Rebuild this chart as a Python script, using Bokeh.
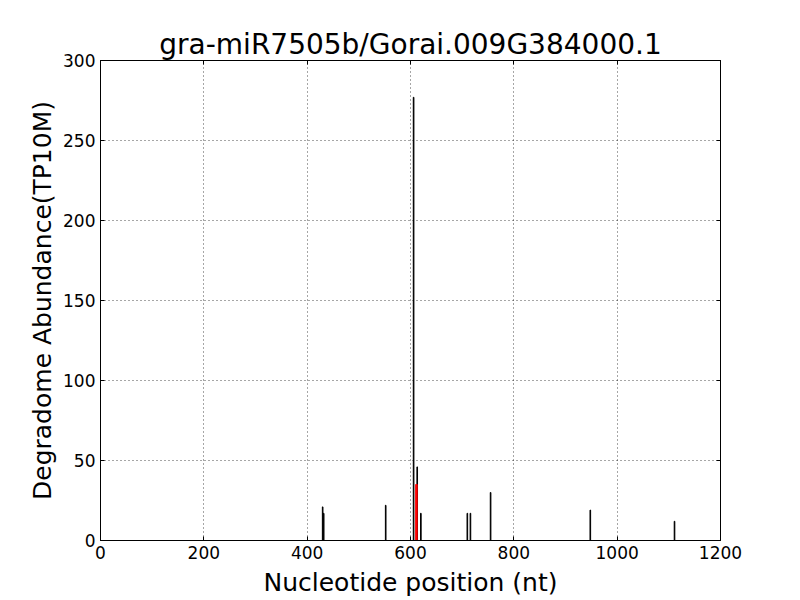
from bokeh.plotting import figure
from bokeh.models import LinearAxis, Range1d, FixedTicker
from bokeh.embed import file_html
from bokeh.resources import INLINE

# Data
positions = [430, 432, 552, 606, 613, 620, 710, 716, 755, 948, 1111]
abundance = [21, 17, 22, 277, 46, 17, 17, 17, 30, 19, 12]
cleave_pos = [611.5]
cleave_val = [35]
x_ticks = [0, 200, 400, 600, 800, 1000, 1200]
y_ticks = [0, 50, 100, 150, 200, 250, 300]

FONT = "DejaVu Sans"

p = figure(width=792, height=592, output_backend="svg", toolbar_location=None,
           x_range=Range1d(0, 1200), y_range=Range1d(0, 300),
           min_border_left=100, min_border_right=72, min_border_top=60, min_border_bottom=52,
           frame_width=620, frame_height=480)

p.title.text = "gra-miR7505b/Gorai.009G384000.1"
p.title.align = "center"
p.title.text_font = FONT
p.title.text_font_size = "28px"
p.title.text_font_style = "normal"
p.title.text_color = "black"
p.title.offset = 0
p.title.standoff = 0

p.vbar(x=positions, top=abundance, bottom=0, width=1.2, fill_color="black", line_color="black", line_width=1)
p.vbar(x=cleave_pos, top=cleave_val, bottom=0, width=3, fill_color="red", line_color="red", line_width=1)

for ax in (p.xaxis[0], p.yaxis[0]):
    ax.major_tick_in = 4
    ax.major_tick_out = 0
    ax.minor_tick_in = 0
    ax.minor_tick_out = 0
    ax.axis_line_color = "black"
    ax.major_tick_line_color = "black"
    ax.major_label_text_font = FONT
    ax.major_label_text_font_size = "17px"
    ax.major_label_text_color = "black"
    ax.axis_label_text_font = FONT
    ax.axis_label_text_font_size = "25px"
    ax.axis_label_text_font_style = "normal"
    ax.axis_label_text_color = "black"
    ax.major_label_standoff = 5

p.xaxis[0].ticker = FixedTicker(ticks=x_ticks)
p.yaxis[0].ticker = FixedTicker(ticks=y_ticks)
p.xaxis[0].axis_label = "Nucleotide position (nt)"
p.yaxis[0].axis_label = "Degradome Abundance(TP10M)"
p.xaxis[0].axis_label_standoff = 6
p.yaxis[0].axis_label_standoff = 3

top_ax = LinearAxis(ticker=FixedTicker(ticks=x_ticks),
                    major_label_overrides={t: "" for t in x_ticks},
                    major_tick_in=4, major_tick_out=0, minor_tick_in=0, minor_tick_out=0,
                    major_label_standoff=0)
right_ax = LinearAxis(ticker=FixedTicker(ticks=y_ticks),
                      major_label_overrides={t: "" for t in y_ticks},
                      major_tick_in=4, major_tick_out=0, minor_tick_in=0, minor_tick_out=0,
                      major_label_standoff=0)
p.add_layout(top_ax, "above")
p.add_layout(right_ax, "right")

p.xgrid.ticker = FixedTicker(ticks=x_ticks)
p.ygrid.ticker = FixedTicker(ticks=y_ticks)
for g in (p.xgrid[0], p.ygrid[0]):
    g.grid_line_color = "black"
    g.grid_line_alpha = 0.7
    g.grid_line_dash = "1 3"
    g.grid_line_width = 1

p.outline_line_color = "black"
p.outline_line_width = 1
p.background_fill_color = "white"
p.border_fill_color = "white"

open("out.html", "w").write(file_html(p, INLINE))
